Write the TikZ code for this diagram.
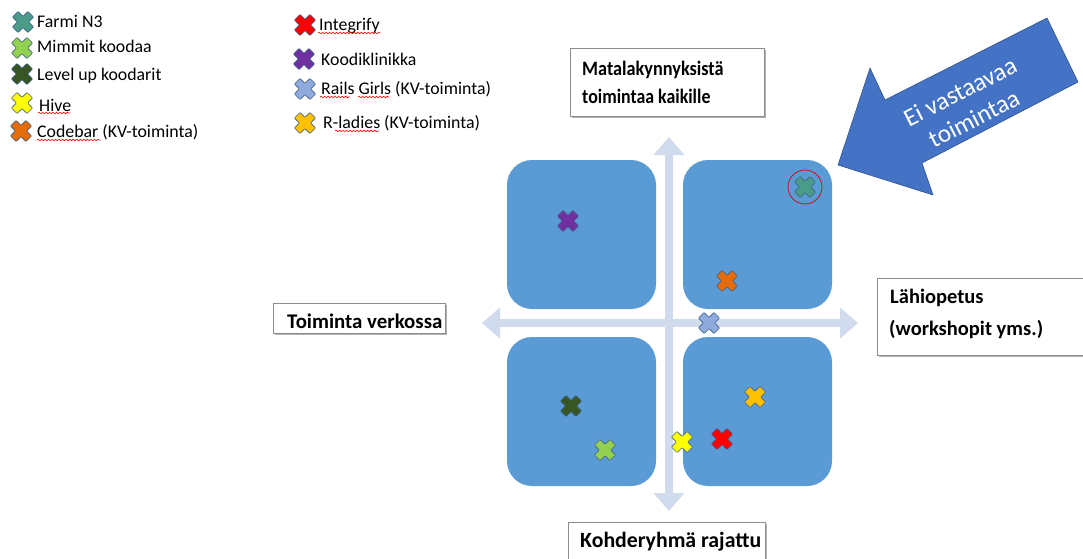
\documentclass[tikz,border=0pt]{standalone}
\usepackage{fontspec}
\setmainfont{Carlito}
\usetikzlibrary{arrows.meta,decorations.pathmorphing}
\definecolor{quadblue}{HTML}{5B9BD5}
\definecolor{axisblue}{HTML}{D0DBEE}
\definecolor{arrowblue}{HTML}{4472C4}
\definecolor{arrowline}{HTML}{2F528F}
\definecolor{xline}{HTML}{41618C}
\definecolor{boxgray}{HTML}{8C8C8C}
\definecolor{farmi}{HTML}{4A9C88}
\definecolor{mimmit}{HTML}{92D050}
\definecolor{levelup}{HTML}{375623}
\definecolor{hive}{HTML}{FFFF00}
\definecolor{codebar}{HTML}{E46C0A}
\definecolor{integrify}{HTML}{FF0000}
\definecolor{koodi}{HTML}{7030A0}
\definecolor{rails}{HTML}{8FAADC}
\definecolor{rladies}{HTML}{FFC000}
\begin{document}
\begin{tikzpicture}[x=0.03cm, y=-0.03cm,
    quadrant/.style={fill=quadblue, rounded corners=0.75cm},
    axis/.style={draw=axisblue, line width=0.24cm, {Triangle[width=0.9cm,length=0.54cm]}-{Triangle[width=0.9cm,length=0.54cm]}},
    legendtext/.style={anchor=base west, inner sep=0pt, font=\fontsize{15.2}{18}\selectfont},
    labeltext/.style={anchor=base west, inner sep=0pt, font=\bfseries\fontsize{#1}{21}\selectfont},
    labelbox/.style={draw=boxgray, fill=white, line width=0.6pt},
    squiggle/.style={draw=red, line width=0.5pt, decorate, decoration={snake, amplitude=0.7pt, segment length=3pt}},
    pics/xmark/.style={code={
      \draw[fill=#1, draw=xline, line width=0.5pt, rounded corners=0.5pt, rotate=45]
        (-4,-11) -- (4,-11) -- (4,-4) -- (11,-4) -- (11,4) -- (4,4) -- (4,11)
        -- (-4,11) -- (-4,4) -- (-11,4) -- (-11,-4) -- (-4,-4) -- cycle;}}]
  \clip (0,0) rectangle (1083,559);
  \fill[white] (0,0) rectangle (1083,559);
  % quadrants and axes
  \foreach \xa/\ya in {507/160, 683/160, 507/337, 683/337}
    \fill[quadrant] (\xa,\ya) rectangle (\xa+149,\ya+149);
  \draw[axis] (482,323) -- (858,323);
  \draw[axis] (669,137) -- (669,511);
  % label boxes with shadow
  \foreach \xa/\ya/\xb/\yb in {570/48/764/116, 273/303/445/333, 877/278/1110/355, 568/522/765/590}{
    \fill[black!30] (\xa+2,\ya+2) rectangle (\xb+2,\yb+2);
    \draw[labelbox] (\xa,\ya) rectangle (\xb,\yb);
  }
  \node[labeltext=17.5] (low1) at (582,75) {\scalebox{0.89}[1]{Matalakynnyksistä}};
  \node[labeltext=17.5] (low2) at (582,103) {\scalebox{0.87}[1]{toimintaa kaikille}};
  \node[labeltext=17.8] (online) at (287,328) {Toiminta verkossa};
  \node[labeltext=17.5] (local1) at (890,303) {Lähiopetus};
  \node[labeltext=17.5] (local2) at (889,335) {(workshopit yms.)};
  \node[labeltext=18.6] (target) at (580,547) {Kohderyhmä rajattu};
  % big arrow
  \draw[fill=arrowblue, draw=arrowline, line width=0.5pt]
    (838,165) -- (870,68) -- (885,100) -- (1047,18) -- (1078,82) -- (922,163) -- (933,195) -- cycle;
  \node[text=white, rotate=27, align=center, font=\fontsize{21.5}{26}\selectfont] (nomatch) at (967,105) {Ei vastaavaa\\toimintaa};
  % legend
  \foreach \col/\cx/\cy/\tx/\ty/\txt in {farmi/23/22/37/27/Farmi N3, mimmit/22/48/37/53/Mimmit koodaa,
      levelup/22/74/37/80/Level up koodarit, hive/22/103/39/111/Hive, codebar/21/131/37/137/Codebar (KV-toiminta),
      integrify/305/25/319/30/Integrify, koodi/304/59/321/65/Koodiklinikka,
      rails/305/89/321/94/Rails Girls (KV-toiminta), rladies/305/123/323/128/R-ladies (KV-toiminta)}{
    \pic at (\cx,\cy) {xmark=\col};
    \node[legendtext] (leg-\col) at (\tx,\ty) {\txt};
  }
  \foreach \xa/\xb/\yy in {38/70/113, 37/100/140, 318/380/33, 320/350/97, 358/389/97, 335/379/131}
    \draw[squiggle] (\xa,\yy) -- (\xb,\yy);
  % markers
  \foreach \col/\mx/\my in {farmi/805/187, koodi/568/221, codebar/727/281, rails/709/323, levelup/571/406,
      mimmit/605/450, hive/682/442, integrify/722/439, rladies/755/397}
    \pic at (\mx,\my) {xmark=\col};
  \draw[red!85!black, line width=0.6pt] (805,187) circle[radius=0.51cm];
\end{tikzpicture}
\end{document}
